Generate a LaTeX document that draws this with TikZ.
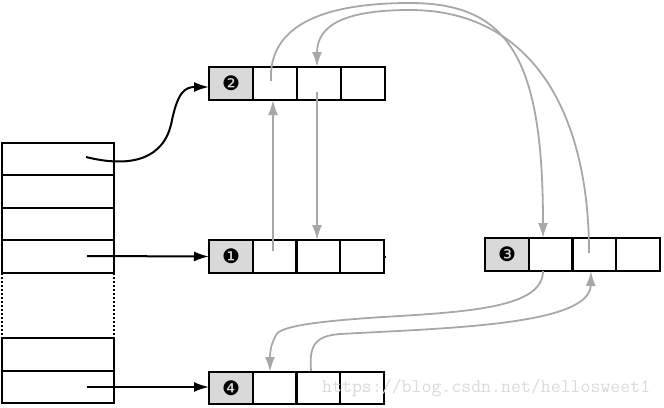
\documentclass[tikz,border=0pt]{standalone}
\usepackage{fontspec}
\newfontfamily\dingfont{DejaVu Sans}
\usetikzlibrary{arrows.meta}
\definecolor{linegray}{HTML}{A8A8A8}
\definecolor{cellgray}{HTML}{D9D9D9}
\definecolor{wmgray}{HTML}{DADADA}
\begin{document}
\begin{tikzpicture}[x=1pt,y=-1pt,
  cellbox/.style={draw=black,line width=2pt,minimum width=44pt,minimum height=33pt,inner sep=0pt,outer sep=0pt,anchor=north west},
  headbox/.style={cellbox,fill=cellgray,font=\dingfont\fontsize{20}{20}\selectfont},
  rowbox/.style={draw=black,line width=2pt,minimum width=112pt,inner sep=0pt,outer sep=0pt,anchor=north west},
  blackarrow/.style={line width=2pt,-{Latex[length=15pt,width=10pt]}},
  grayarrow/.style={draw=linegray,line width=1.8pt,-{Latex[length=15pt,width=10pt]}}]
\useasboundingbox (0,0) rectangle (664,407);
% left table
\node[rowbox,minimum height=32pt] (r1) at (2,143) {};
\node[rowbox,minimum height=33pt] (r2) at (2,175) {};
\node[rowbox,minimum height=32pt] (r3) at (2,208) {};
\node[rowbox,minimum height=33pt] (r4) at (2,240) {};
\node[rowbox,minimum height=33pt] (r5) at (2,338) {};
\node[rowbox,minimum height=32pt] (r6) at (2,371) {};
\draw[line width=2pt,dotted] (r4.south west) -- (r5.north west);
\draw[line width=2pt,dotted] (r4.south east) -- (r5.north east);
% record 2
\node[headbox] (b0) at (209,67) {❷};
\node[cellbox] (b1) at (253,67) {};
\node[cellbox] (b2) at (297,67) {};
\node[cellbox] (b3) at (341,67) {};
% record 1
\node[headbox] (a0) at (209,240) {❶};
\node[cellbox] (a1) at (253,240) {};
\node[cellbox] (a2) at (296,240) {};
\node[cellbox] (a3) at (340,240) {};
% record 3
\node[headbox] (c0) at (485,238) {❸};
\node[cellbox] (c1) at (529,238) {};
\node[cellbox] (c2) at (572,238) {};
\node[cellbox] (c3) at (616,238) {};
% record 4
\node[headbox,minimum height=32pt] (d0) at (209,372) {❹};
\node[cellbox,minimum height=32pt] (d1) at (253,372) {};
\node[cellbox,minimum height=32pt] (d2) at (296,372) {};
\node[cellbox,minimum height=32pt] (d3) at (340,372) {};
\draw[line width=2pt] (a3.east) -- ++(2,0);
% black pointers
\coordinate (p1) at (86,157);
\coordinate (p4) at (87,256);
\coordinate (p6) at (87,387);
\draw[blackarrow] (p1) .. controls (130,168) and (165,160) .. (172,120) .. controls (178,92) and (185,87) .. (b0.west |- 0,87);
\draw[blackarrow] (p4) -- (a0.west);
\draw[blackarrow] (p6) -- (d0.west |- p6);
% gray pointers between record 1 and 2
\coordinate (a1c) at (273,251);
\coordinate (b2c) at (317,92);
\draw[grayarrow] (a1c) -- (a1c |- b1.south);
\draw[grayarrow] (b2c) -- (b2c |- a2.north);
% between record 2 and 3
\coordinate (b1c) at (271,81);
\coordinate (c2c) at (589,253);
\draw[grayarrow] (b1c) .. controls (268,22) and (330,3) .. (410,3) .. controls (510,3) and (543,60) .. (543,0 |- c1.north);
\draw[grayarrow] (c2c) .. controls (589,110) and (530,10) .. (410,10) .. controls (345,10) and (317,25) .. (317,0 |- b2.north);
% between record 3 and 4
\coordinate (d2c) at (311,371);
\draw[grayarrow] (543,0 |- c1.south) .. controls (543,305) and (480,311) .. (400,316) .. controls (330,320) and (280,325) .. (276,335) .. controls (271,345) and (270,350) .. (270,0 |- d1.north);
\draw[grayarrow] (d2c) .. controls (309,345) and (315,336) .. (340,334) .. controls (450,328) and (590,325) .. (591,0 |- c2.south);
% watermark
\node[anchor=base west,text=wmgray,inner sep=0pt,font=\ttfamily\fontsize{19.3}{19.3}\selectfont] (wm) at (322,392) {https://blog.csdn.net/hellosweet1};
\end{tikzpicture}
\end{document}
